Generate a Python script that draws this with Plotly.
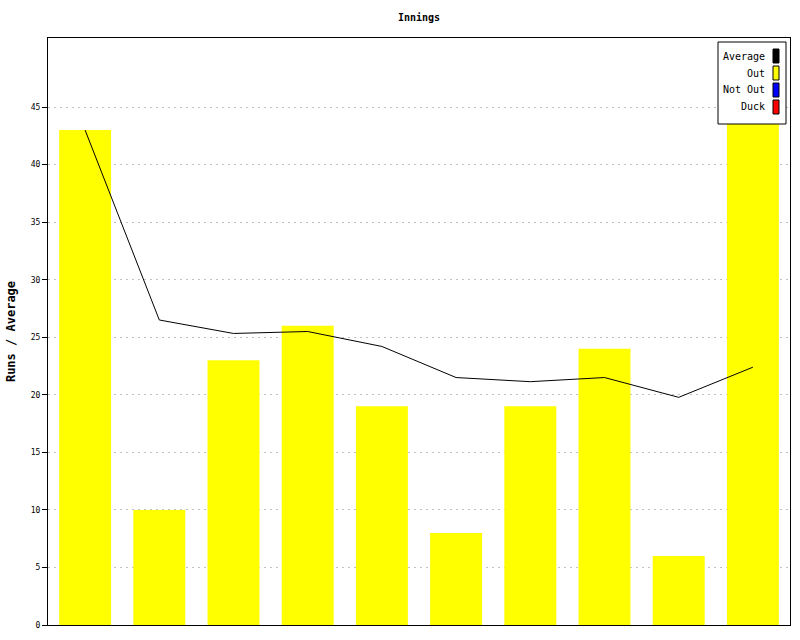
import plotly.graph_objects as go

innings = list(range(1, 11))
runs = [43, 10, 23, 26, 19, 8, 19, 24, 6, 46]
average = [43.0, 26.5, 25.33, 25.5, 24.2, 21.5, 21.14, 21.5, 19.78, 22.4]
y_ticks = [0, 5, 10, 15, 20, 25, 30, 35, 40, 45]
legend_names = ["Average", "Out", "Not Out", "Duck"]
legend_colors = ["#000000", "#ffff00", "#0000ff", "#ff0000"]

FONT = "DejaVu Sans Mono"
L, R, T, B = 48, 790, 38, 625
PW, PH = R - L, B - T

fig = go.Figure()
fig.add_trace(go.Bar(x=innings, y=runs, marker=dict(color="#ffff00", line=dict(width=0)),
                     name="Out", showlegend=False))
fig.add_trace(go.Scatter(x=innings, y=average, mode="lines", line=dict(color="black", width=1),
                         name="Average", showlegend=False))

def dx(x): return (x - L) / PW
def dy(y): return (B - y) / PH

shapes = [dict(type="rect", xref="x domain", yref="y domain",
               x0=dx(718), x1=dx(786), y0=dy(124), y1=dy(42),
               line=dict(color="black", width=1), fillcolor="white", layer="above")]
annotations = []
for i, (n, c) in enumerate(zip(legend_names, legend_colors)):
    cy = 56 + i * 17
    shapes.append(dict(type="rect", xref="x domain", yref="y domain",
                       x0=dx(773), x1=dx(779), y0=dy(cy + 7), y1=dy(cy - 7),
                       line=dict(color="black", width=1), fillcolor=c, layer="above"))
    annotations.append(dict(text=n, xref="x domain", yref="y domain",
                            x=dx(767), y=dy(cy), xanchor="right", yanchor="middle",
                            showarrow=False,
                            font=dict(family=FONT, size=10, color="black")))

fig.update_layout(
    width=800, height=640,
    margin=dict(l=L, r=800 - R, t=T, b=640 - B),
    paper_bgcolor="white", plot_bgcolor="white",
    bargap=0.3,
    title=dict(text="<b>Innings</b>", x=(L + R) / 2 / 800, xanchor="center",
               y=1 - 17 / 640, yanchor="middle",
               font=dict(family=FONT, size=10, color="black")),
    shapes=shapes, annotations=annotations,
    showlegend=False,
)
fig.update_xaxes(range=[0.5, 10.5], showticklabels=False, ticks="", showgrid=False,
                 showline=True, linecolor="black", linewidth=1, mirror=True, zeroline=False)
fig.update_yaxes(range=[0, 51], tickvals=y_ticks, ticktext=[str(v) for v in y_ticks],
                 ticks="outside", ticklen=5, tickcolor="black",
                 tickfont=dict(family=FONT, size=8, color="black"),
                 showgrid=True, gridcolor="#c0c0c0", griddash="2px,4px", gridwidth=1,
                 showline=True, linecolor="black", linewidth=1, mirror=True, zeroline=False,
                 title=dict(text="<b>Runs / Average</b>", standoff=12,
                            font=dict(family=FONT, size=12, color="black")))

fig.write_html("out.html", config={"displayModeBar": False})
with open("out.html", encoding="utf-8") as f:
    html = f.read()
html = html.replace("<head>", "<head><style>html,body{margin:0;padding:0;overflow:hidden}</style>", 1)
with open("out.html", "w", encoding="utf-8") as f:
    f.write(html)
